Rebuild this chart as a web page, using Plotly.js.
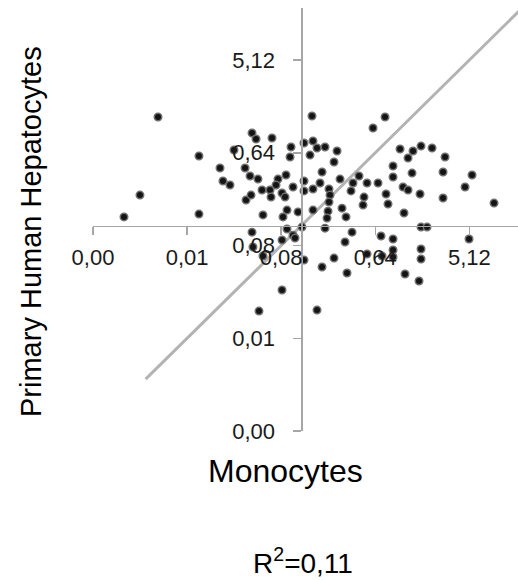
<!DOCTYPE html>
<html>
<head>
<meta charset="utf-8">
<script src="https://cdn.plot.ly/plotly-3.0.1.min.js"></script>
<style>
html,body{margin:0;padding:0;background:#fff;}
#chart{width:518px;height:580px;}
</style>
</head>
<body>
<div id="chart"></div>
<script>
// Tick values (log scale, factor 8) and their labels
const tickVals = [0.00125, 0.01, 0.08, 0.64, 5.12];
const tickText = ['0,00', '0,01', '0,08', '0,64', '5,12'];

// Monocytes (x) and Primary Human Hepatocytes (y) values
const monocytes = [
  0.00526, 0.1581, 0.794, 0.609, 0.0420, 0.0459, 0.0653, 0.1325, 0.1616, 0.1766,
  0.2108, 0.2749, 0.0994, 0.0282, 0.0130, 0.0973, 0.1513, 0.2572, 1.106, 1.320,
  1.474, 1.759, 2.244, 2.991, 0.0207, 0.0360, 0.0402, 0.0479, 0.0221, 0.0258,
  0.0746, 0.0890, 0.0714, 0.0625, 0.0524, 0.1039, 0.1325, 0.1616, 0.1973, 0.1887,
  0.2937, 0.4469, 0.3914, 0.5333, 0.6802, 0.9475, 0.9475, 1.442, 2.861, 5.431,
  4.654, 1.182, 1.320, 1.721, 2.861, 8.833, 0.812, 0.848, 1.208, 0.00353,
  0.00248, 0.0130, 0.0368, 0.0411, 0.0639, 0.0815, 0.0871, 0.1325, 0.2302, 0.2354,
  0.2302, 0.3745, 0.4991, 0.4882, 0.0535, 0.0910, 0.0833, 0.1161, 0.1616, 0.2252,
  0.2203, 0.3069, 0.3353, 0.2108, 0.1268, 0.0910, 0.1039, 0.1086, 0.0815, 0.0420,
  0.3828, 0.3281, 0.7267, 0.9475, 1.759, 2.009, 5.083, 1.759, 1.759, 0.9475,
  0.9475, 0.5333, 0.743, 0.2572, 0.1325, 0.1973, 0.3428, 1.235, 1.683, 0.0815,
  0.0490, 0.1766, 0.0429, 0.0535
];
const hepatocytes = [
  1.426, 1.459, 1.426, 1.115, 0.997, 0.871, 0.891, 0.796, 0.833, 0.712,
  0.728, 0.666, 0.728, 0.681, 0.595, 0.582, 0.608, 0.520, 0.696, 0.569,
  0.666, 0.744, 0.712, 0.582, 0.455, 0.455, 0.380, 0.355, 0.340, 0.311,
  0.355, 0.389, 0.311, 0.278, 0.278, 0.297, 0.340, 0.284, 0.416, 0.325,
  0.355, 0.380, 0.325, 0.325, 0.325, 0.476, 0.372, 0.406, 0.416, 0.389,
  0.297, 0.297, 0.278, 0.254, 0.232, 0.207, 0.254, 0.203, 0.166, 0.248,
  0.152, 0.162, 0.222, 0.248, 0.237, 0.260, 0.237, 0.272, 0.284, 0.248,
  0.212, 0.272, 0.237, 0.198, 0.159, 0.177, 0.152, 0.170, 0.177, 0.173,
  0.148, 0.185, 0.152, 0.118, 0.121, 0.116, 0.101, 0.0946, 0.0905, 0.108,
  0.108, 0.0865, 0.0990, 0.0926, 0.121, 0.121, 0.0926, 0.0740, 0.0591, 0.0723,
  0.0618, 0.0661, 0.0632, 0.0604, 0.0578, 0.0494, 0.0432, 0.0422, 0.0361, 0.0295,
  0.0184, 0.0188, 0.0774, 0.0632
];

// Identity reference line endpoints
const lineX = [0.004, 20];
const lineY = [0.004, 20];

// Axis crossing value and ranges (log10)
const crossAt = 0.125;
const xRange = [-2.903, 1.176];
const yRange = [-2.903, 1.216];

const xPos = (Math.log10(crossAt) - yRange[0]) / (yRange[1] - yRange[0]);
const yPos = (Math.log10(crossAt) - xRange[0]) / (xRange[1] - xRange[0]);

const FONT = 'Liberation Sans, Arial, sans-serif';

const traces = [
  {
    x: lineX, y: lineY, mode: 'lines', type: 'scatter',
    line: {color: '#b3b3b3', width: 3}, hoverinfo: 'skip', showlegend: false
  },
  {
    x: monocytes, y: hepatocytes, mode: 'markers', type: 'scatter',
    marker: {size: 7.5, color: '#141414', line: {color: '#6e6e6e', width: 1.5}},
    showlegend: false
  }
];

const axisCommon = {
  type: 'log', showgrid: false, zeroline: false,
  showline: true, linecolor: '#a6a6a6', linewidth: 1.5,
  ticks: 'outside', ticklen: 8, tickwidth: 1.5, tickcolor: '#a6a6a6',
  tickmode: 'array', tickvals: tickVals, ticktext: tickText,
  tickfont: {family: FONT, size: 22, color: '#1a1a1a'},
  anchor: 'free'
};

const layout = {
  width: 518, height: 580,
  margin: {l: 93, r: 0, t: 8, b: 149},
  paper_bgcolor: '#ffffff', plot_bgcolor: '#ffffff',
  showlegend: false,
  xaxis: Object.assign({}, axisCommon, {range: xRange, position: xPos, ticklabelstandoff: 3}),
  yaxis: Object.assign({}, axisCommon, {range: yRange, position: yPos, ticklabelstandoff: 14}),
  annotations: [
    {text: 'Primary Human Hepatocytes', xref: 'paper', yref: 'paper',
     x: -62/425, y: (431 - 232) / 423, xanchor: 'center', yanchor: 'middle',
     textangle: -90, showarrow: false, font: {family: FONT, size: 29, color: '#000'}},
    {text: 'Monocytes', xref: 'paper', yref: 'paper',
     x: (285 - 93) / 425, y: -(471 - 431) / 423, xanchor: 'center', yanchor: 'middle',
     showarrow: false, font: {family: FONT, size: 32, color: '#000'}},
    {text: 'R<sup>2</sup>=0,11', xref: 'paper', yref: 'paper',
     x: (303 - 93) / 425, y: -(561 - 431) / 423, xanchor: 'center', yanchor: 'middle',
     showarrow: false, font: {family: FONT, size: 28, color: '#000'}}
  ]
};

Plotly.newPlot('chart', traces, layout, {staticPlot: true, displayModeBar: false});
</script>
</body>
</html>
